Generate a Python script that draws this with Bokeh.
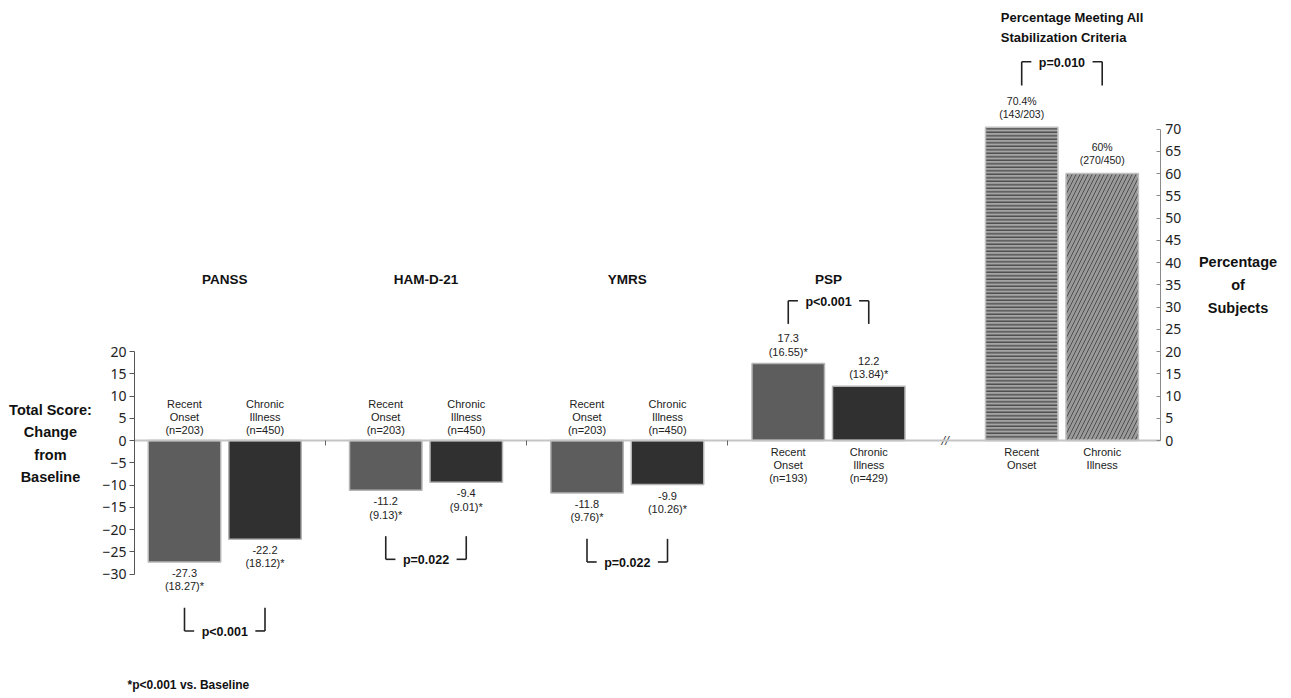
from bokeh.plotting import figure
from bokeh.models import Range1d, LinearAxis, FixedTicker, ColumnDataSource
from bokeh.core.properties import value
from bokeh.embed import file_html
from bokeh.resources import INLINE

# ---------------- data ----------------
groups = ["PANSS", "HAM-D-21", "YMRS", "PSP"]
subgroups = ["Recent Onset", "Chronic Illness"]
recent_change = [-27.3, -11.2, -11.8, 17.3]
recent_sd = ["18.27", "9.13", "9.76", "16.55"]
recent_n = [203, 203, 203, 193]
chronic_change = [-22.2, -9.4, -9.9, 12.2]
chronic_sd = ["18.12", "9.01", "10.26", "13.84"]
chronic_n = [450, 450, 450, 429]
group_p = ["p<0.001", "p=0.022", "p=0.022", "p<0.001"]

stab_title = "Percentage Meeting All\nStabilization Criteria"
stab_pct = [70.4, 60]
stab_counts = ["143/203", "270/450"]
stab_p = "p=0.010"

left_ticks = [-30, -25, -20, -15, -10, -5, 0, 5, 10, 15, 20]
right_ticks = [0, 5, 10, 15, 20, 25, 30, 35, 40, 45, 50, 55, 60, 65, 70]
left_title = "Total Score:\nChange\nfrom\nBaseline"
right_title = "Percentage\nof\nSubjects"
footnote = "*p<0.001 vs. Baseline"

# ---------------- layout ----------------
W, H = 1289, 696
GROUP_STEP, SUB_STEP, BREAK_GAP, BAR_W = 2.5, 1.0, 0.4, 0.9
PX_X = 80.5
X0 = -184 / PX_X
X1 = X0 + W / PX_X
PX_Y = 4.45
Y1 = 440 / PX_Y
Y0 = Y1 - H / PX_Y

LAB = "'Liberation Sans', Arial, sans-serif"
TICKF = "'Noto Sans', 'Open Sans', sans-serif"

sub_short = [s.replace(" ", "\n") for s in subgroups]

xr_ = [g * GROUP_STEP for g in range(len(groups))]
xc_ = [g * GROUP_STEP + SUB_STEP for g in range(len(groups))]
xs_ = [len(groups) * GROUP_STEP + BREAK_GAP + j * SUB_STEP for j in range(2)]
x_left_axis = xr_[0] - 0.62
x_right_axis = xs_[1] + 0.72

p = figure(width=W, height=H, x_range=Range1d(X0, X1), y_range=Range1d(Y0, Y1),
           x_axis_type=None, y_axis_type=None, min_border=0,
           outline_line_color=None, toolbar_location=None, output_backend="svg",
           background_fill_color="white", border_fill_color="white")
p.extra_y_ranges = {"pct": Range1d(Y0, Y1)}

# ---------------- bars ----------------
src_r = ColumnDataSource(dict(x=xr_, top=recent_change))
src_c = ColumnDataSource(dict(x=xc_, top=chronic_change))
p.vbar(x="x", top="top", bottom=0, width=BAR_W, source=src_r,
       fill_color="#5d5d5d", line_color="#b5b5b5", line_width=1.5)
p.vbar(x="x", top="top", bottom=0, width=BAR_W, source=src_c,
       fill_color="#303030", line_color="#b5b5b5", line_width=1.5)

p.vbar(x=[xs_[0]], top=[stab_pct[0]], bottom=0, width=BAR_W, y_range_name="pct",
       fill_color="#a4a4a4", line_color="#c0c0c0", line_width=1.5,
       hatch_pattern="horizontal_line", hatch_color="#3c3c3c", hatch_scale=3.5, hatch_weight=1.2)
p.vbar(x=[xs_[1]], top=[stab_pct[1]], bottom=0, width=BAR_W, y_range_name="pct",
       fill_color="#9a9a9a", line_color="#c0c0c0", line_width=1.5,
       hatch_pattern="right_diagonal_line", hatch_color="#505050", hatch_scale=8, hatch_weight=1)

# ---------------- axes ----------------
sep_ticks = [(xc_[g] + xr_[g + 1]) / 2 for g in range(len(groups) - 1)]
xaxis = LinearAxis(fixed_location=0, bounds=(x_left_axis, x_right_axis),
                   ticker=FixedTicker(ticks=sep_ticks))
xaxis.major_label_overrides = {t: "" for t in sep_ticks}
xaxis.axis_line_color = "#c4c4c4"
xaxis.axis_line_width = 2
xaxis.major_tick_line_color = "#666666"
xaxis.major_tick_in = 0
xaxis.major_tick_out = 5
xaxis.minor_tick_line_color = None
xaxis.major_label_text_font_size = "1px"
p.add_layout(xaxis, "below")

yl = LinearAxis(fixed_location=x_left_axis, bounds=(min(left_ticks), max(left_ticks)),
                ticker=FixedTicker(ticks=left_ticks))
yl.axis_line_color = "#555555"
yl.major_tick_line_color = "#555555"
yl.major_tick_in = 0
yl.major_tick_out = 5
yl.minor_tick_line_color = None
yl.major_label_text_font = TICKF
yl.major_label_text_font_size = "14px"
yl.major_label_text_color = "#222222"
yl.major_label_standoff = 3
p.add_layout(yl, "left")

yr = LinearAxis(fixed_location=x_right_axis, y_range_name="pct",
                bounds=(min(right_ticks), max(right_ticks)), ticker=FixedTicker(ticks=right_ticks))
yr.axis_line_color = "#8a8a8a"
yr.major_tick_line_color = "#8a8a8a"
yr.major_tick_in = 4
yr.major_tick_out = 0
yr.minor_tick_line_color = None
yr.major_label_text_font = TICKF
yr.major_label_text_font_size = "14px"
yr.major_label_text_color = "#222222"
yr.major_label_standoff = 5
p.add_layout(yr, "right")

# ---------------- texts ----------------
def fmt(v):
    return f"{v:g}"

TXT = dict(text_font=value(LAB), text_font_size="11px", text_color="#222222",
           text_align="center", text_line_height=1.1)
BOLD = dict(text_font=value(LAB), text_font_style="bold", text_color="#111111")

# category labels
neg_x, neg_t, pos_x, pos_t = [], [], [], []
for g in range(len(groups)):
    for xx, sub, n in ((xr_[g], sub_short[0], recent_n[g]), (xc_[g], sub_short[1], chronic_n[g])):
        lab = f"{sub}\n(n={n})"
        vals = (recent_change[g], chronic_change[g])
        if max(vals) > 0:
            pos_x.append(xx); pos_t.append(lab)
        else:
            neg_x.append(xx); neg_t.append(lab)
p.text(x=neg_x, y=[0] * len(neg_x), text=neg_t, text_baseline="bottom", y_offset=-4, **TXT)
p.text(x=pos_x, y=[0] * len(pos_x), text=pos_t, text_baseline="top", y_offset=5, **TXT)
p.text(x=xs_, y=[0, 0], text=sub_short, text_baseline="top", y_offset=5, **TXT)

# value labels
vx, vy, vt = [], [], []
for g in range(len(groups)):
    vx += [xr_[g], xc_[g]]
    vy += [recent_change[g], chronic_change[g]]
    vt += [f"{fmt(recent_change[g])}\n({recent_sd[g]})*", f"{fmt(chronic_change[g])}\n({chronic_sd[g]})*"]
nx = [x for x, y in zip(vx, vy) if y < 0]
ny = [y for y in vy if y < 0]
nt = [t for t, y in zip(vt, vy) if y < 0]
px_ = [x for x, y in zip(vx, vy) if y >= 0]
py_ = [y for y in vy if y >= 0]
pt_ = [t for t, y in zip(vt, vy) if y >= 0]
p.text(x=nx, y=ny, text=nt, text_baseline="top", y_offset=5, **TXT)
p.text(x=px_, y=py_, text=pt_, text_baseline="bottom", y_offset=-6, **TXT)
p.text(x=xs_, y=stab_pct, y_range_name="pct",
       text=[f"{fmt(v)}%\n({c})" for v, c in zip(stab_pct, stab_counts)],
       text_baseline="bottom", y_offset=-7,
       **{**TXT, "text_font_size": "10.5px"})

# group titles
p.text(x=[(a + b) / 2 for a, b in zip(xr_, xc_)], y=[36.2] * len(groups), text=groups,
       text_font_size="13.5px", text_align="center", text_baseline="middle", **BOLD)
p.text(x=[(xs_[0] + xs_[1]) / 2 - 0.76], y=[92.8], text=[stab_title],
       text_font_size="13px", text_align="left", text_baseline="middle",
       text_line_height=1.34, **BOLD)

# side titles
p.text(x=[x_left_axis - 1.045], y=[-0.7], text=[left_title],
       text_font_size="14.5px", text_align="center", text_baseline="middle",
       text_line_height=1.4, **BOLD)
p.text(x=[x_right_axis + 0.967], y=[35.0], text=[right_title],
       text_font_size="14.5px", text_align="center", text_baseline="middle",
       text_line_height=1.44, **BOLD)

# footnote
p.text(x=[x_left_axis - 0.088], y=[-55.0], text=[footnote],
       text_font_size="12px", text_align="left", text_baseline="middle", **BOLD)

# axis break
p.text(x=[(xc_[-1] + xs_[0]) / 2], y=[0], text=["//"],
       text_font=value(LAB), text_font_size="13px", text_font_style="italic",
       text_color="#444444", text_align="center", text_baseline="middle")

# ---------------- significance brackets ----------------
STUB = 0.12
sx0, sy0, sx1, sy1 = [], [], [], []
ptx, pty, ptt = [], [], []

def bracket(xa, xb, near, far, label):
    sx0.extend([xa, xb, xa, xb - STUB])
    sx1.extend([xa, xb, xa + STUB, xb])
    sy0.extend([near, near, far, far])
    sy1.extend([far, far, far, far])
    ptx.append((xa + xb) / 2); pty.append(far); ptt.append(label)

for g in range(len(groups)):
    vals = (recent_change[g], chronic_change[g])
    if max(vals) > 0:
        near = max(vals) + 8.9
        bracket(xr_[g], xc_[g], near, near + 5.2, group_p[g])
    else:
        near = min(vals) - 10.3
        bracket(xr_[g], xc_[g], near, near - 5.2, group_p[g])
near_s = max(stab_pct) + 9.4
bracket(xs_[0], xs_[1], near_s, near_s + 5.3, stab_p)

p.segment(x0=sx0, y0=sy0, x1=sx1, y1=sy1, line_color="#222222", line_width=1.6)
p.text(x=ptx, y=pty, text=ptt, text_font_size="12.5px", text_align="center",
       text_baseline="middle", y_offset=1, **BOLD)

open("out.html", "w").write(file_html(p, INLINE))
